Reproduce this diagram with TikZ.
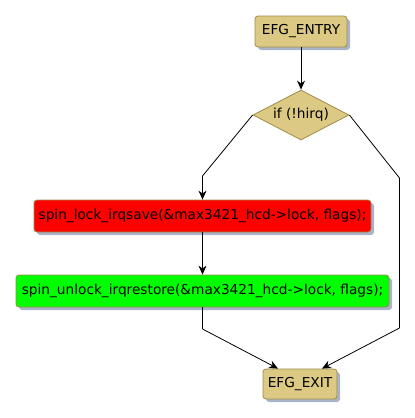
\documentclass[tikz,border=0pt]{standalone}
\usepackage{fontspec}
\setmainfont{DejaVu Sans}
\usetikzlibrary{shapes.geometric,arrows.meta,shadows}
\definecolor{efgfill}{HTML}{DCC983}
\definecolor{efgline}{HTML}{A08C4A}
\definecolor{shade}{HTML}{A9B4CA}
\tikzset{
  box/.style={rectangle,rounded corners=3pt,draw=efgline,line width=0.8pt,inner sep=0pt,
    drop shadow={shadow xshift=3pt,shadow yshift=-3pt,fill=shade,opacity=1}},
  cond/.style={diamond,aspect=1.92,draw=efgline,fill=efgfill,line width=0.8pt,inner sep=0pt,
    minimum width=96pt,minimum height=50pt},
  flow/.style={-{Stealth[length=9pt,width=8pt]},line width=0.8pt},
  wire/.style={line width=0.8pt}
}
\begin{document}
\begin{tikzpicture}[x=1pt,y=-1pt,font=\fontsize{13.7}{16}\selectfont]
\useasboundingbox (0,0) rectangle (415,418);

\node[box,fill=efgfill,minimum width=92pt,minimum height=31pt] (entry) at (301,31.5) {EFG\_ENTRY};
\node[cond] (hirq) at (301,115) {if (!hirq)};
\node[box,fill=red,minimum width=337pt,minimum height=32pt] (lock) at (202.5,216) {spin\_lock\_irqsave(\&max3421\_hcd->lock, flags);};
\node[box,fill=green,minimum width=373pt,minimum height=32pt] (unlock) at (202.5,291) {spin\_unlock\_irqrestore(\&max3421\_hcd->lock, flags);};
\node[box,fill=efgfill,minimum width=74pt,minimum height=30pt] (exit) at (300,384) {EFG\_EXIT};

\coordinate (yes) at (202.5,176);
\coordinate (noa) at (399.5,178);
\coordinate (nob) at (399.5,328);
\coordinate (join) at (202.5,329);

\draw [flow] (entry) -- (hirq);
\draw [wire] (hirq.west) -- (yes);
\draw [flow] (yes) -- (lock);
\draw [flow] (lock) -- (unlock);
\draw [wire] (hirq.east) -- (noa) -- (nob);
\draw [flow] (nob) -- ([xshift=22pt]exit.north);
\draw [wire] (unlock) -- (join);
\draw [flow] (join) -- ([xshift=-22pt]exit.north);

\end{tikzpicture}
\end{document}
